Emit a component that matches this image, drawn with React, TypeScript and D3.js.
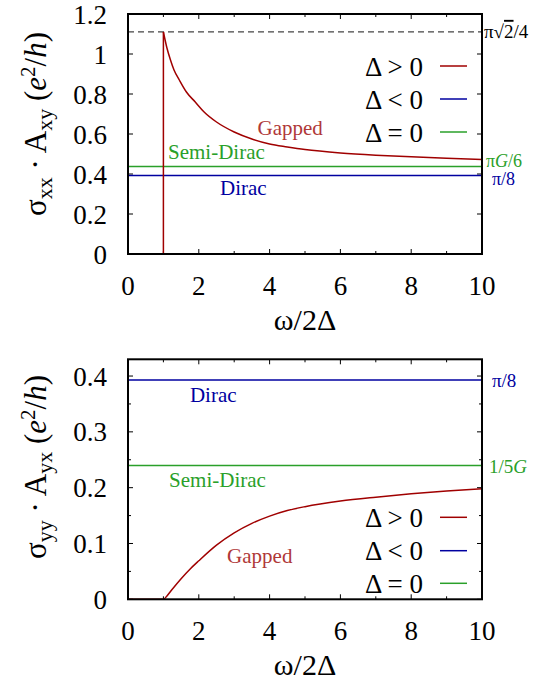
import React, { useEffect, useRef } from 'react';
import * as d3 from 'd3';

// gapped (Δ > 0) curve, top panel: σxx·Axy
const gapX1 = [1, 1.1, 1.2, 1.3, 1.45, 1.65, 1.9, 2.15, 2.5, 3, 3.5, 4, 4.5, 5, 6, 7, 8, 9, 10];
const gapY1 = [1.11, 1.03, 0.97, 0.92, 0.87, 0.81, 0.76, 0.71, 0.66, 0.61, 0.575, 0.55, 0.535, 0.522, 0.505, 0.494, 0.486, 0.479, 0.473];

// gapped curve, bottom panel: σyy·Ayx
const gapX2 = [1, 1.1, 1.25, 1.5, 1.75, 2, 2.5, 3, 3.5, 4, 4.5, 5, 6, 7, 8, 9, 10];
const gapY2 = [0, 0.006, 0.018, 0.037, 0.054, 0.069, 0.097, 0.119, 0.136, 0.149, 0.159, 0.166, 0.176, 0.183, 0.189, 0.194, 0.198];

// constant levels
const diracTop = 0.3927; // π/8
const semiTop = 0.437; // πG/6
const maxTop = 1.1107; // π√2/4
const diracBot = 0.3927; // π/8
const semiBot = 0.2396; // 1/5G

const xTicks = [0, 2, 4, 6, 8, 10];
const xMinor = [1, 3, 5, 7, 9];
const yTicksTop = [0, 0.2, 0.4, 0.6, 0.8, 1, 1.2];
const yTicksBot = [0, 0.1, 0.2, 0.3, 0.4];
const yMinorBot = [0.05, 0.15, 0.25, 0.35];

const legendLabels = ['Δ > 0', 'Δ < 0', 'Δ = 0'];

const RED = '#a00000';
const BLUE = '#0000a0';
const GREEN = '#2aa02a';
const FONT = "'Liberation Serif', 'Times New Roman', Times, 'DejaVu Serif', serif";

const App = () => {
  const svgRef = useRef(null);

  useEffect(() => {
    const svg = d3.select(svgRef.current);
    svg.selectAll('*').remove();
    svg.style('font-family', FONT);

    const left = 128, right = 482;
    const x = d3.scaleLinear().domain([0, 10]).range([left, right]);

    const panel = (top, bottom, yMax, yTicks, yMinor) => {
      const y = d3.scaleLinear().domain([0, yMax]).range([bottom, top]);
      const g = svg.append('g');

      // ticks (inside, mirrored)
      const tk = g.append('g').attr('stroke', '#000').attr('stroke-width', 1);
      xTicks.forEach(v => {
        tk.append('line').attr('x1', x(v)).attr('x2', x(v)).attr('y1', bottom).attr('y2', bottom - 5);
        tk.append('line').attr('x1', x(v)).attr('x2', x(v)).attr('y1', top).attr('y2', top + 5);
      });
      xMinor.forEach(v => {
        tk.append('line').attr('x1', x(v)).attr('x2', x(v)).attr('y1', bottom).attr('y2', bottom - 3);
        tk.append('line').attr('x1', x(v)).attr('x2', x(v)).attr('y1', top).attr('y2', top + 3);
      });
      yTicks.forEach(v => {
        tk.append('line').attr('x1', left).attr('x2', left + 5).attr('y1', y(v)).attr('y2', y(v));
        tk.append('line').attr('x1', right).attr('x2', right - 5).attr('y1', y(v)).attr('y2', y(v));
      });
      yMinor.forEach(v => {
        tk.append('line').attr('x1', left).attr('x2', left + 3).attr('y1', y(v)).attr('y2', y(v));
        tk.append('line').attr('x1', right).attr('x2', right - 3).attr('y1', y(v)).attr('y2', y(v));
      });

      // tick labels
      g.selectAll('.xl').data(xTicks).enter().append('text')
        .attr('x', d => x(d)).attr('y', bottom + 41)
        .attr('text-anchor', 'middle').attr('font-size', 27)
        .text(d => d);
      g.selectAll('.yl').data(yTicks).enter().append('text')
        .attr('x', 107).attr('y', d => y(d) + 9.5)
        .attr('text-anchor', 'end').attr('font-size', 27)
        .text(d => d3.format('~g')(d));

      // x label
      g.append('text').attr('x', (left + right) / 2).attr('y', bottom + 76)
        .attr('text-anchor', 'middle').attr('font-size', 30)
        .text('ω/2Δ');

      return { g, y };
    };

    const hline = (g, y, v, col, w = 1.5) => g.append('line')
      .attr('x1', x(0)).attr('x2', x(10)).attr('y1', y(v)).attr('y2', y(v))
      .attr('stroke', col).attr('stroke-width', w);

    // ---------- top panel ----------
    const T = panel(14, 254, 1.2, yTicksTop, []);
    hline(T.g, T.y, maxTop, '#444', 1.2).attr('stroke-dasharray', '6,4');
    hline(T.g, T.y, semiTop, GREEN);
    hline(T.g, T.y, diracTop, BLUE);
    const ptsT = gapX1.map((v, i) => [x(v), T.y(gapY1[i])]);
    T.g.append('path').attr('d', d3.line().curve(d3.curveMonotoneX)(ptsT))
      .attr('fill', 'none').attr('stroke', RED).attr('stroke-width', 1.5);
    T.g.append('path').attr('d', d3.line()([[x(0), T.y(0)], [x(gapX1[0]), T.y(0)], ptsT[0]]))
      .attr('fill', 'none').attr('stroke', RED).attr('stroke-width', 1.5);

    // ---------- bottom panel ----------
    const B = panel(359.3, 599.3, 0.43, yTicksBot, yMinorBot);
    hline(B.g, B.y, diracBot, BLUE);
    hline(B.g, B.y, semiBot, GREEN);
    const ptsB = [[x(0), B.y(0)]].concat(gapX2.map((v, i) => [x(v), B.y(gapY2[i])]));
    B.g.append('path').attr('d', d3.line().curve(d3.curveMonotoneX)(ptsB))
      .attr('fill', 'none').attr('stroke', RED).attr('stroke-width', 1.5);

    // frames
    [[14, 254], [359.3, 599.3]].forEach(([t, b]) => {
      svg.append('rect').attr('x', left).attr('y', t).attr('width', right - left).attr('height', b - t)
        .attr('fill', 'none').attr('stroke', '#000').attr('stroke-width', 2);
    });

    // legends
    const legend = (ys) => {
      const cols = [RED, BLUE, GREEN];
      ys.forEach((yy, i) => {
        svg.append('text').attr('x', 423).attr('y', yy + 9.5).attr('text-anchor', 'end')
          .attr('font-size', 27).text(legendLabels[i]);
        svg.append('line').attr('x1', 440).attr('x2', 467).attr('y1', yy).attr('y2', yy)
          .attr('stroke', cols[i]).attr('stroke-width', 1.5);
      });
    };
    legend([66, 99, 132]);
    legend([517.3, 550.7, 583.3]);

    // annotations
    const note = (txt, px, py, col, anchor = 'start') => svg.append('text').attr('x', px).attr('y', py)
      .attr('text-anchor', anchor).attr('font-size', 21).attr('fill', col).text(txt);
    note('Gapped', x(4.58), T.y(0.595), '#b03838', 'middle');
    note('Semi-Dirac', x(1.13), T.y(0.475), GREEN);
    note('Dirac', x(2.6), T.y(0.295), BLUE);
    note('Dirac', x(1.75), B.y(0.354), BLUE);
    note('Semi-Dirac', x(1.16), B.y(0.201), GREEN);
    note('Gapped', x(2.8), B.y(0.065), '#b03838');

    // right side value labels
    const rl = svg.append('text').attr('x', 484).attr('y', T.y(maxTop) + 6).attr('font-size', 19);
    rl.append('tspan').text('π√');
    rl.append('tspan').attr('text-decoration', 'overline').text('2');
    rl.append('tspan').text('/4');
    const g6 = svg.append('text').attr('x', 486).attr('y', T.y(semiTop)).attr('font-size', 18)
      .attr('fill', GREEN);
    g6.append('tspan').text('π');
    g6.append('tspan').attr('font-style', 'italic').text('G');
    g6.append('tspan').text('/6');
    svg.append('text').attr('x', 492).attr('y', T.y(diracTop) + 10).attr('font-size', 18)
      .attr('fill', BLUE).text('π/8');
    svg.append('text').attr('x', 492).attr('y', B.y(diracBot) + 7).attr('font-size', 19)
      .attr('fill', BLUE).text('π/8');
    const g5 = svg.append('text').attr('x', 489).attr('y', B.y(semiBot) + 7).attr('font-size', 19)
      .attr('fill', GREEN);
    g5.append('tspan').text('1/5');
    g5.append('tspan').attr('font-style', 'italic').text('G');

    // y axis labels
    const ylab = (cy, sub1, sub2) => {
      const t = svg.append('text').attr('transform', `translate(46,${cy}) rotate(-90)`)
        .attr('text-anchor', 'middle').attr('font-size', 31);
      t.append('tspan').text('σ');
      t.append('tspan').attr('font-size', 22).attr('dy', 6).text(sub1);
      t.append('tspan').attr('dy', -6).text(' · A');
      t.append('tspan').attr('font-size', 22).attr('dy', 6).text(sub2);
      t.append('tspan').attr('dy', -6).text(' (');
      t.append('tspan').attr('font-style', 'italic').text('e');
      t.append('tspan').attr('font-size', 21).attr('dy', -11).text('2');
      t.append('tspan').attr('dy', 11).text('/');
      t.append('tspan').attr('font-style', 'italic').text('h');
      t.append('tspan').text(')');
    };
    ylab(124, 'xx', 'xy');
    ylab(467, 'yy', 'yx');
  }, []);

  return (
    <svg ref={svgRef} width={533} height={690}
      style={{ position: 'absolute', left: 0, top: 0, background: '#fff' }} />
  );
};

export default App;
